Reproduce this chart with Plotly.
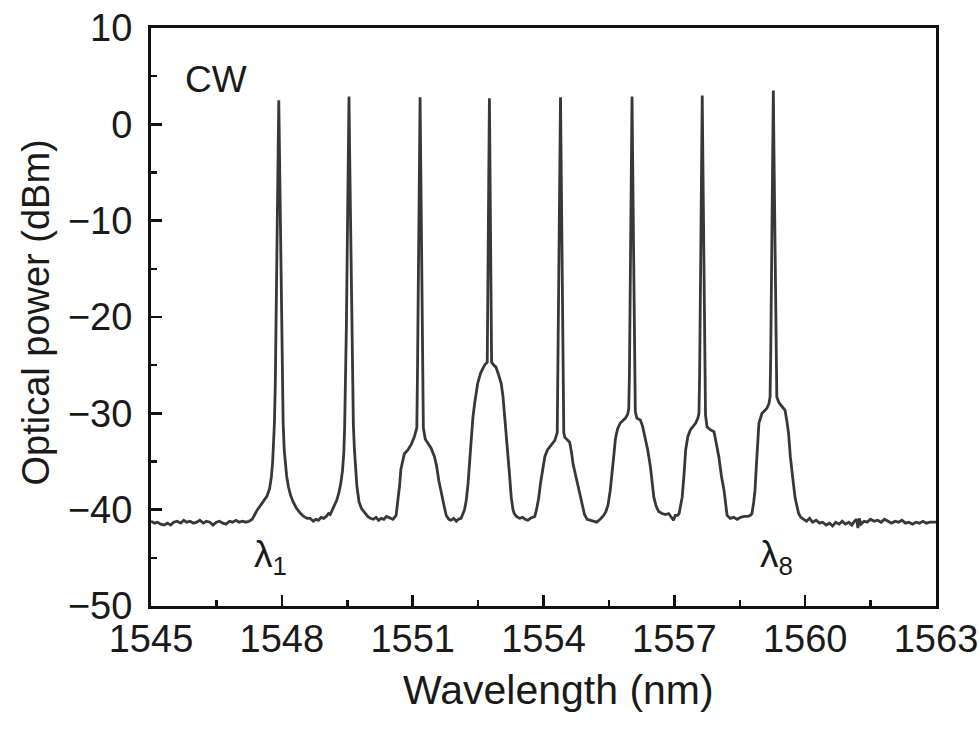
import plotly.graph_objects as go

# ---- spectrum (wavelength in nm, power in dBm) ----
base_left_nm = [1545.00, 1545.08, 1545.15, 1545.22, 1545.30, 1545.38, 1545.45, 1545.52, 1545.60, 1545.68,
                1545.75, 1545.82, 1545.90, 1545.97, 1546.05, 1546.12, 1546.20, 1546.27, 1546.35, 1546.42,
                1546.50, 1546.57, 1546.65, 1546.72, 1546.80, 1546.87, 1546.95, 1547.02, 1547.10, 1547.17,
                1547.25, 1547.32]
base_left_dbm = [-41.2, -41.4, -41.3, -41.5, -41.6, -41.4, -41.6, -41.3, -41.2, -41.4,
                 -41.1, -41.3, -41.2, -41.4, -41.3, -41.1, -41.4, -41.2, -41.3, -41.6,
                 -41.3, -41.2, -41.4, -41.5, -41.2, -41.3, -41.1, -41.3, -41.2, -41.3,
                 -41.2, -41.0]

ch1_nm = [1547.38, 1547.44, 1547.52, 1547.60, 1547.66, 1547.72, 1547.76, 1547.79, 1547.805, 1547.83,
          1547.85, 1547.87, 1547.885, 1547.90, 1547.915, 1547.93,
          1547.945, 1547.96, 1547.975, 1547.99, 1548.01, 1548.03, 1548.055, 1548.08, 1548.11, 1548.15,
          1548.20, 1548.26, 1548.33, 1548.41, 1548.50, 1548.58, 1548.65, 1548.72, 1548.78, 1548.84,
          1548.90, 1548.96]
ch1_dbm = [-40.5, -40.0, -39.5, -39.0, -38.6, -37.8, -36.6, -35.0, -33.8, -31.0,
           -27, -21, -15, -9, -3, 2.5,
           -3, -9, -15, -21, -27, -31.0, -33.8, -35.2, -36.5, -37.6,
           -38.5, -39.2, -39.8, -40.3, -40.7, -40.9, -40.9, -41.2, -41.0, -41.1,
           -40.8, -40.9]

ch2_nm = [1549.02, 1549.07, 1549.11, 1549.16, 1549.21, 1549.26, 1549.31, 1549.35, 1549.39, 1549.42,
          1549.44, 1549.46, 1549.48, 1549.495, 1549.51, 1549.525, 1549.54,
          1549.555, 1549.57, 1549.585, 1549.60, 1549.62, 1549.64, 1549.665, 1549.69, 1549.72, 1549.77,
          1549.83, 1549.90, 1549.97, 1550.03, 1550.10, 1550.16, 1550.22, 1550.28, 1550.34, 1550.40,
          1550.46]
ch2_dbm = [-40.7, -40.4, -40.5, -40.0, -39.5, -39.0, -38.2, -37.3, -36.0, -34.2,
           -31.5, -27, -21, -15, -9, -3, 2.9,
           -3, -9, -15, -21, -27, -31.2, -33.8, -35.8, -37.5, -39.2,
           -39.9, -40.3, -40.7, -40.9, -41.0, -40.8, -41.1, -40.9, -41.0, -40.7,
           -40.8]

ch3_nm = [1550.55, 1550.62, 1550.67, 1550.70, 1550.73, 1550.77, 1550.81, 1550.89, 1550.97, 1551.04,
          1551.095, 1551.11, 1551.125, 1551.14, 1551.155, 1551.17,
          1551.185, 1551.20, 1551.215, 1551.23, 1551.245, 1551.29, 1551.35, 1551.42, 1551.50, 1551.55,
          1551.60, 1551.65, 1551.72, 1551.77, 1551.83, 1551.88, 1551.94, 1552.00, 1552.05]
ch3_dbm = [-41.0, -40.6, -39.0, -37.5, -35.8, -34.8, -34.2, -33.8, -33.2, -32.4,
           -31.5, -26, -19, -12, -4, 2.8,
           -4, -12, -19, -26, -31.5, -32.7, -33.1, -33.6, -34.5, -35.5,
           -37.0, -38.2, -39.6, -40.6, -41.0, -41.1, -40.9, -41.2, -41.0]

ch4_nm = [1552.11, 1552.19, 1552.23, 1552.27, 1552.31, 1552.34, 1552.38, 1552.42, 1552.49, 1552.56,
          1552.65, 1552.71, 1552.72, 1552.735, 1552.748, 1552.76,
          1552.772, 1552.785, 1552.80, 1552.81, 1552.86, 1552.91, 1552.97, 1553.03, 1553.07, 1553.10,
          1553.14, 1553.18, 1553.22, 1553.26, 1553.30, 1553.33, 1553.38, 1553.45]
ch4_dbm = [-40.9, -40.0, -39.0, -37.3, -34.8, -32.4, -30.5, -29.0, -26.9, -25.8,
           -25.0, -24.7, -20, -12, -4, 2.7,
           -4, -12, -20, -24.7, -25.0, -25.2, -26.0, -26.9, -28.2, -29.7,
           -31.8, -33.8, -36.3, -38.7, -40.0, -40.4, -40.7, -40.9]

ch5_nm = [1553.52, 1553.58, 1553.64, 1553.70, 1553.76, 1553.80, 1553.84, 1553.89, 1553.93, 1553.98,
          1554.03, 1554.09, 1554.14, 1554.21, 1554.26, 1554.315, 1554.33, 1554.345, 1554.36, 1554.375,
          1554.39,
          1554.405, 1554.42, 1554.435, 1554.45, 1554.465, 1554.49, 1554.55, 1554.60, 1554.64, 1554.68,
          1554.73, 1554.78, 1554.83, 1554.88, 1554.94, 1555.00, 1555.06, 1555.14, 1555.22, 1555.30,
          1555.38]
ch5_dbm = [-40.8, -41.0, -41.1, -40.9, -40.8, -40.7, -40.0, -38.8, -37.3, -35.8,
           -34.5, -33.8, -33.5, -33.1, -32.8, -32.0, -26, -19, -12, -4,
           2.8,
           -4, -12, -19, -26, -32.0, -32.5, -32.8, -33.0, -34.0, -35.3,
           -36.3, -37.3, -38.3, -39.6, -40.5, -41.0, -41.1, -41.2, -41.3, -41.0,
           -40.6]

ch6_nm = [1555.43, 1555.48, 1555.53, 1555.57, 1555.61, 1555.65, 1555.70, 1555.76, 1555.83, 1555.88,
          1555.93, 1555.955, 1555.97, 1555.985, 1556.00, 1556.015, 1556.03,
          1556.045, 1556.06, 1556.075, 1556.09, 1556.105, 1556.14, 1556.22, 1556.27, 1556.33, 1556.39,
          1556.45, 1556.49, 1556.53, 1556.58, 1556.64, 1556.72, 1556.80, 1556.87, 1556.93, 1556.98,
          1557.02]
ch6_dbm = [-40.2, -39.5, -38.0, -36.5, -34.5, -32.6, -31.6, -31.0, -30.7, -30.5,
           -30.1, -29.5, -26, -19, -12, -4, 2.9,
           -4, -12, -19, -26, -29.8, -30.5, -30.7, -31.3, -32.4, -33.8,
           -35.5, -37.2, -38.7, -39.6, -40.2, -40.4, -40.5, -40.4, -40.8, -41.1,
           -40.6]

ch7_nm = [1557.07, 1557.11, 1557.15, 1557.18, 1557.22, 1557.26, 1557.31, 1557.37, 1557.44, 1557.49,
          1557.54, 1557.565, 1557.58, 1557.595, 1557.61, 1557.625, 1557.64,
          1557.655, 1557.67, 1557.685, 1557.70, 1557.715, 1557.75, 1557.82, 1557.91, 1557.96, 1558.02,
          1558.08, 1558.14, 1558.18, 1558.21, 1558.28, 1558.36, 1558.44, 1558.52, 1558.60, 1558.68,
          1558.74]
ch7_dbm = [-40.6, -40.4, -39.5, -38.7, -36.5, -33.8, -32.4, -31.7, -31.3, -31.0,
           -30.5, -30.0, -26, -19, -12, -4, 3.0,
           -4, -12, -19, -26, -30.2, -31.4, -31.7, -31.9, -33.0, -34.5,
           -36.5, -38.0, -39.5, -40.6, -40.9, -40.8, -41.0, -40.8, -40.7, -40.7,
           -40.6]

ch8_nm = [1558.78, 1558.82, 1558.85, 1558.88, 1558.91, 1558.94, 1559.01, 1559.07, 1559.12, 1559.17,
          1559.195, 1559.21, 1559.225, 1559.24, 1559.255, 1559.27,
          1559.285, 1559.30, 1559.315, 1559.33, 1559.35, 1559.40, 1559.47, 1559.54, 1559.58, 1559.62,
          1559.66, 1559.70, 1559.73, 1559.77, 1559.81, 1559.85, 1559.90, 1559.96]
ch8_dbm = [-40.4, -39.2, -38.0, -35.5, -32.5, -31.0, -30.0, -29.7, -29.5, -29.0,
           -28.3, -24, -17, -10, -3, 3.5,
           -3, -10, -17, -24, -28.3, -28.9, -29.3, -29.7, -30.8, -32.1,
           -34.5, -36.5, -37.3, -38.8, -39.8, -40.4, -40.8, -41.0]

base_right_nm = [1560.03, 1560.10, 1560.17, 1560.25, 1560.33, 1560.40, 1560.48, 1560.56, 1560.63, 1560.70,
                 1560.78, 1560.85, 1560.92, 1561.00, 1561.07, 1561.13, 1561.18, 1561.21, 1561.24, 1561.28,
                 1561.35, 1561.42, 1561.50, 1561.58, 1561.66, 1561.74, 1561.82, 1561.90, 1561.98, 1562.06,
                 1562.14, 1562.22, 1562.30, 1562.38, 1562.46, 1562.54, 1562.62, 1562.70, 1562.78, 1562.86,
                 1562.94, 1563.00]
base_right_dbm = [-41.2, -40.9, -41.3, -41.1, -41.4, -41.3, -41.6, -41.4, -41.7, -41.3,
                  -41.5, -41.2, -41.5, -41.3, -41.6, -41.2, -41.0, -41.9, -40.9, -41.5,
                  -41.2, -41.3, -41.0, -41.2, -41.1, -41.3, -41.0, -41.2, -41.4, -41.2,
                  -41.3, -41.1, -41.4, -41.3, -41.5, -41.3, -41.4, -41.2, -41.4, -41.3,
                  -41.3, -41.3]

# ---- axis ticks and labels ----
x_tick_vals = [1545, 1548, 1551, 1554, 1557, 1560, 1563]
x_tick_text = ["1545", "1548", "1551", "1554", "1557", "1560", "1563"]
y_tick_vals = [-50, -40, -30, -20, -10, 0, 10]
y_tick_text = ["\u221250", "\u221240", "\u221230", "\u221220", "\u221210", "0", "10"]
x_title = "Wavelength (nm)"
y_title = "Optical power (dBm)"

# ---- text labels inside the plot ----
label_texts = ["CW", "\u03bb<sub>1</sub>", "\u03bb<sub>8</sub>"]
label_x = [1546.50, 1547.74, 1559.35]
label_y = [4.7, -44.9, -44.9]

segments_nm = [base_left_nm, ch1_nm, ch2_nm, ch3_nm, ch4_nm, ch5_nm, ch6_nm, ch7_nm, ch8_nm, base_right_nm]
segments_dbm = [base_left_dbm, ch1_dbm, ch2_dbm, ch3_dbm, ch4_dbm, ch5_dbm, ch6_dbm, ch7_dbm, ch8_dbm, base_right_dbm]

wavelength = []
power = []
for a, b in zip(segments_nm, segments_dbm):
    assert len(a) == len(b), (len(a), len(b), a[0])
    wavelength += a
    power += b

FONT = "Arial, 'Liberation Sans', Helvetica, sans-serif"
INK = "#1a1a1a"

fig = go.Figure()
fig.add_trace(go.Scatter(
    x=wavelength, y=power, mode="lines",
    line=dict(color="#383838", width=2.8),
    showlegend=False, hoverinfo="skip",
))

for t, x, y in zip(label_texts, label_x, label_y):
    fig.add_annotation(x=x, y=y, xref="x", yref="y", text=t, showarrow=False,
                       font=dict(family=FONT, size=37, color=INK),
                       xanchor="center", yanchor="middle")

# axis titles
fig.add_annotation(x=0.5185, y=-0.145, xref="paper", yref="paper", text=x_title,
                   showarrow=False, xanchor="center", yanchor="middle",
                   font=dict(family=FONT, size=41, color=INK))
fig.add_annotation(x=-0.147, y=0.507, xref="paper", yref="paper", text=y_title,
                   showarrow=False, xanchor="center", yanchor="middle", textangle=-90,
                   font=dict(family=FONT, size=38, color=INK))

axis_common = dict(
    showgrid=False, zeroline=False, automargin=False,
    showline=True, linecolor="#111111", linewidth=3, mirror=True,
    ticks="inside", ticklen=11, tickwidth=2.5, tickcolor="#111111",
    tickfont=dict(family=FONT, size=38, color=INK),
)

fig.update_xaxes(
    range=[1545, 1563], tickmode="array", tickvals=x_tick_vals, ticktext=x_tick_text,
    minor=dict(ticks="inside", ticklen=6, tickwidth=2.5, tickcolor="#111111", dtick=1.5, tick0=1545),
    ticklabelstandoff=-3,
    **axis_common,
)
fig.update_yaxes(
    range=[-50, 10], tickmode="array", tickvals=y_tick_vals, ticktext=y_tick_text,
    minor=dict(ticks="inside", ticklen=6, tickwidth=2.5, tickcolor="#111111", dtick=5, tick0=-50),
    ticklabelstandoff=8,
    **axis_common,
)

fig.update_layout(
    width=980, height=729,
    margin=dict(l=151, r=44, t=28, b=123),
    paper_bgcolor="white", plot_bgcolor="white",
)

# remove the page's default 8px body margin so the figure sits at the window's corner
fig.write_html("out.html",
               config={"displayModeBar": False, "staticPlot": True},
               post_script="document.body.style.margin='0';document.body.style.overflow='hidden';")
